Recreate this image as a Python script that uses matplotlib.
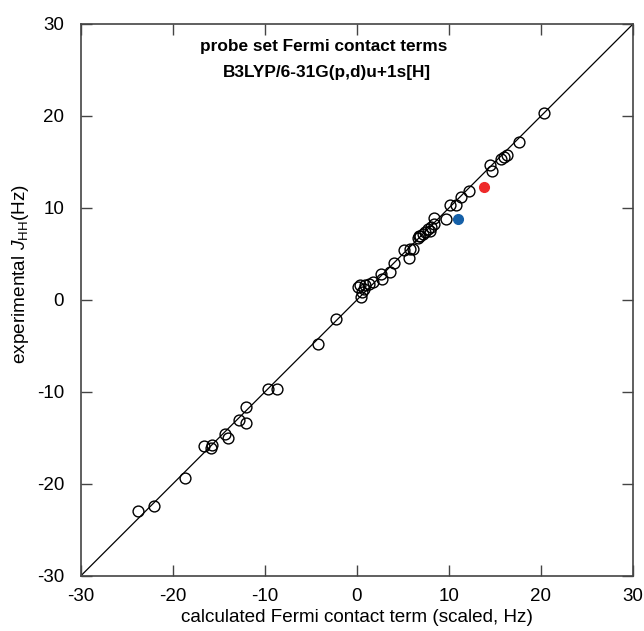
import matplotlib
matplotlib.use("Agg")
import matplotlib.pyplot as plt

plt.rcParams['font.family'] = ['Liberation Sans', 'DejaVu Sans']
plt.rcParams['mathtext.fontset'] = 'custom'
plt.rcParams['mathtext.rm'] = 'Liberation Sans'
plt.rcParams['mathtext.it'] = 'Liberation Sans:italic'
plt.rcParams['axes.unicode_minus'] = False

# calculated (scaled) Fermi contact terms vs experimental J(HH), Hz
calc_fc = [20.28, 17.64, 16.3, 15.93, 15.68, 14.49, 14.67, 12.2, 11.34, 10.8,
           10.07, 9.71, 8.33, 8.33, 8.04, 7.71, 7.42, 7.13, 6.88, 6.66, 7.9,
           6.8, 6.15, 5.14, 5.79, 5.61, 4.05, 3.62, 2.61, 2.72, 1.8, 1.37,
           0.9, 0.36, 0.72, 0.54, 0.43, 0.15,
           -2.28, -4.24, -9.67, -8.63, -12.07, -12.83, -12.03, -14.32, -14.03,
           -16.6, -15.76, -15.84, -18.7, -22.02, -23.8]
exp_j = [20.33, 17.13, 15.76, 15.5, 15.32, 14.63, 13.98, 11.8, 11.2, 10.28,
         10.28, 8.84, 8.91, 8.26, 7.97, 7.68, 7.42, 7.17, 6.96, 6.7, 7.53,
         6.99, 5.5, 5.45, 5.54, 4.55, 3.98, 3.0, 2.78, 2.28, 1.91, 1.74,
         1.63, 1.63, 1.2, 0.83, 0.28, 1.45,
         -2.07, -4.83, -9.67, -9.67, -11.67, -13.0, -13.34, -14.57, -14.97,
         -15.87, -15.73, -16.05, -19.3, -22.35, -22.95]

# two highlighted couplings
red_pt = (13.84, 12.24)
blue_pt = (11.0, 8.84)

ticks = [-30, -20, -10, 0, 10, 20, 30]

fig = plt.figure(figsize=(6.44, 6.31), dpi=100)
ax = fig.add_axes([0.1253, 0.0872, 0.8577, 0.8748])

ax.plot([-30, 30], [-30, 30], color='black', lw=0.9, zorder=1)
ax.plot(calc_fc, exp_j, linestyle='none', marker='o', markersize=7.8,
        markerfacecolor='none', markeredgecolor='black', markeredgewidth=1.0,
        zorder=2)
ax.plot([red_pt[0]], [red_pt[1]], linestyle='none', marker='o', markersize=7,
        color='#ee2a2a', zorder=3)
ax.plot([blue_pt[0]], [blue_pt[1]], linestyle='none', marker='o', markersize=7,
        color='#1560a8', zorder=3)

ax.set_xlim(-30, 30)
ax.set_ylim(-30, 30)
ax.set_xticks(ticks)
ax.set_yticks(ticks)
ax.tick_params(direction='in', length=8, width=1.0, color='#444444',
               top=True, right=True, labelsize=13.5, pad=9)
ax.tick_params(axis='y', pad=12)
for sp in ax.spines.values():
    sp.set_color('#444444')
    sp.set_linewidth(1.2)

ax.set_xlabel('calculated Fermi contact term (scaled, Hz)', fontsize=13.6)
ax.xaxis.set_label_coords(0.5, -0.0605)
ax.set_ylabel(r'experimental $J_{\mathrm{HH}}$(Hz)', fontsize=13.7)
ax.yaxis.set_label_coords(-0.09, 0.547)

ax.text(-17.0, 27.6, 'probe set Fermi contact terms', fontsize=12.4,
        fontweight='bold', ha='left', va='center')
ax.text(-14.6, 24.7, 'B3LYP/6-31G(p,d)u+1s[H]', fontsize=12.4,
        fontweight='bold', ha='left', va='center')

fig.savefig('out.png', dpi=100)
